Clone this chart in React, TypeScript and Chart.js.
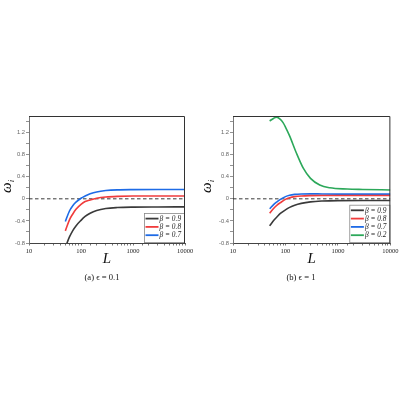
import React, { useEffect, useRef } from "react";
import { Chart, registerables } from "chart.js";
Chart.register(...registerables);

// ---------- data ----------
const X_MIN = 10;
const X_MAX = 10000;
const Y_MIN = -0.8;
const Y_MAX = 1.5;
const Y_TICKS = [-0.8, -0.6, -0.4, -0.2, 0, 0.2, 0.4, 0.6, 0.8, 1.0, 1.2, 1.4];
const Y_LABELED = [-0.8, -0.4, 0, 0.4, 0.8, 1.2];

// panel (a) eps = 0.1
const L_A = [50, 60, 70, 80, 100, 120, 150, 200, 300, 500, 1000, 3000, 10000];
const A_BETA09 = [-0.88, -0.69, -0.57, -0.49, -0.39, -0.32, -0.26, -0.21, -0.175, -0.158, -0.15, -0.147, -0.146];
const A_BETA08 = [-0.58, -0.38, -0.27, -0.19, -0.1, -0.05, -0.02, 0.01, 0.033, 0.045, 0.05, 0.05, 0.05];
const A_BETA07 = [-0.41, -0.22, -0.12, -0.06, 0.01, 0.05, 0.09, 0.125, 0.15, 0.163, 0.167, 0.168, 0.168];

// panel (b) eps = 1
const L_B = [50, 60, 70, 80, 100, 120, 150, 200, 300, 500, 1000, 3000, 10000];
const B_BETA09 = [-0.49, -0.39, -0.32, -0.265, -0.2, -0.155, -0.115, -0.082, -0.055, -0.04, -0.032, -0.03, -0.03];
const B_BETA08 = [-0.26, -0.17, -0.11, -0.07, -0.01, 0.02, 0.04, 0.052, 0.058, 0.06, 0.06, 0.06, 0.06];
const B_BETA07 = [-0.18, -0.1, -0.05, -0.01, 0.04, 0.065, 0.08, 0.088, 0.09, 0.088, 0.086, 0.085, 0.085];
const L_B_GREEN = [50, 60, 67, 80, 90, 100, 120, 160, 220, 300, 450, 700, 1500, 3000, 10000];
const B_BETA02 = [1.41, 1.46, 1.48, 1.44, 1.38, 1.3, 1.14, 0.84, 0.55, 0.37, 0.25, 0.2, 0.178, 0.17, 0.16];

const LABEL_09 = "β = 0.9";
const LABEL_08 = "β = 0.8";
const LABEL_07 = "β = 0.7";
const LABEL_02 = "β = 0.2";

const COL_BLACK = "#3a3a3a";
const COL_RED = "#f03c3c";
const COL_BLUE = "#1e6be6";
const COL_GREEN = "#2ca85a";

const SERIF = '"Liberation Serif", "DejaVu Serif", serif';
const SANS = '"Liberation Sans", "DejaVu Sans", sans-serif';

const toPts = (xs: number[], ys: number[]) => xs.map((x, i) => ({ x, y: ys[i] }));

function series(label: string, xs: number[], ys: number[], color: string) {
  return {
    label,
    data: toPts(xs, ys),
    borderColor: color,
    backgroundColor: color,
    borderWidth: 1.6,
    pointRadius: 0,
    cubicInterpolationMode: "monotone",
    fill: false,
    order: 1,
  };
}

function zeroLine() {
  return {
    label: "__zero",
    data: [
      { x: X_MIN, y: 0 },
      { x: X_MAX, y: 0 },
    ],
    borderColor: "#222",
    borderWidth: 0.9,
    borderDash: [3.5, 2.5],
    pointRadius: 0,
    fill: false,
    order: 10,
  };
}

const decor = {
  id: "decor",
  afterDatasetsDraw(chart: any) {
    const ctx = chart.ctx;
    const ca = chart.chartArea;
    const items = chart.data.datasets.filter((d: any) => d.label !== "__zero");
    const rowH = 8.3;
    const boxW = 41;
    const boxH = items.length * rowH + 5;
    const bx = ca.right - boxW;
    const by = ca.bottom - boxH;
    ctx.save();
    ctx.fillStyle = "#fff";
    ctx.fillRect(bx, by, boxW, boxH);
    ctx.strokeStyle = "#888";
    ctx.lineWidth = 0.8;
    ctx.strokeRect(bx + 0.4, by + 0.4, boxW - 0.8, boxH - 0.8);
    items.forEach((d: any, i: number) => {
      const cy = by + 5.5 + i * rowH;
      ctx.strokeStyle = d.borderColor;
      ctx.lineWidth = 1.8;
      ctx.beginPath();
      ctx.moveTo(bx + 1.5, cy);
      ctx.lineTo(bx + 14.5, cy);
      ctx.stroke();
      ctx.fillStyle = "#222";
      ctx.font = `italic 7.4px ${SERIF}`;
      ctx.textBaseline = "middle";
      ctx.textAlign = "left";
      ctx.fillText(d.label, bx + 15.5, cy + 0.3);
    });
    ctx.restore();
  },
  afterDraw(chart: any, _a: any, opts: any) {
    const ctx = chart.ctx;
    const ca = chart.chartArea;
    ctx.save();
    // box frame
    ctx.strokeStyle = "#333";
    ctx.lineWidth = 1;
    ctx.beginPath();
    ctx.moveTo(ca.left, ca.top + 0.5);
    ctx.lineTo(ca.right - 0.5, ca.top + 0.5);
    ctx.lineTo(ca.right - 0.5, ca.bottom);
    ctx.stroke();
    ctx.restore();

    // y title  ω_i
    ctx.save();
    const cx = 7;
    const cy = (ca.top + ca.bottom) / 2 + 7;
    ctx.translate(cx, cy);
    ctx.rotate(-Math.PI / 2);
    ctx.fillStyle = "#111";
    ctx.textBaseline = "alphabetic";
    ctx.textAlign = "left";
    ctx.font = `italic 15px ${SERIF}`;
    const w1 = ctx.measureText("ω").width;
    ctx.font = `italic 9px ${SERIF}`;
    const w2 = ctx.measureText("i").width;
    const start = -(w1 + w2) / 2;
    ctx.font = `italic 15px ${SERIF}`;
    ctx.fillText("ω", start, 3.5);
    ctx.font = `italic 9px ${SERIF}`;
    ctx.fillText("i", start + w1 + 0.3, 6.5);
    ctx.restore();

    ctx.save();
    // x title L
    ctx.fillStyle = "#111";
    ctx.textAlign = "center";
    ctx.textBaseline = "middle";
    ctx.font = `italic 15px ${SERIF}`;
    ctx.fillText("L", (ca.left + ca.right) / 2, ca.bottom + 16);
    // caption
    ctx.font = `8.6px ${SERIF}`;
    ctx.fillText(opts.caption, opts.captionX, ca.bottom + 35);
    ctx.restore();
  },
};

function makeConfig(datasets: any[], yWidth: number, padRight: number, caption: string, captionX: number) {
  return {
    type: "line",
    data: { datasets },
    plugins: [decor],
    options: {
      animation: false,
      responsive: false,
      maintainAspectRatio: false,
      layout: { padding: { top: 16, right: padRight, left: 0, bottom: 0 } },
      plugins: {
        legend: { display: false },
        tooltip: { enabled: false },
        decor: { caption, captionX },
      },
      scales: {
        x: {
          type: "logarithmic",
          min: X_MIN,
          max: X_MAX,
          afterFit: (s: any) => {
            s.height = 47;
          },
          grid: { drawOnChartArea: false, tickLength: 2.5, color: "#555", lineWidth: 0.8 },
          border: { color: "#444", width: 1 },
          ticks: {
            autoSkip: false,
            maxRotation: 0,
            padding: 1.5,
            color: "#222",
            font: { family: SERIF, size: 6.5 },
            callback: (v: any) => {
              const n = Number(v);
              const l = Math.log10(n);
              return Math.abs(l - Math.round(l)) < 1e-9 ? String(Math.round(n)) : "";
            },
          },
        },
        y: {
          min: Y_MIN,
          max: Y_MAX,
          afterFit: (s: any) => {
            s.width = yWidth;
          },
          afterBuildTicks: (s: any) => {
            s.ticks = Y_TICKS.map((v) => ({ value: v }));
          },
          grid: { drawOnChartArea: false, tickLength: 3, color: "#777", lineWidth: 0.8 },
          border: { color: "#777", width: 1 },
          ticks: {
            autoSkip: false,
            padding: 1,
            color: "#666",
            font: { family: SANS, size: 5.8 },
            callback: (v: any) => {
              const r = Math.round(Number(v) * 10) / 10;
              return Y_LABELED.some((t) => Math.abs(t - r) < 1e-6) ? String(r) : "";
            },
          },
        },
      },
    },
  };
}

function Panel({ left, config }: { left: number; config: any }) {
  const ref = useRef<HTMLCanvasElement | null>(null);
  useEffect(() => {
    if (!ref.current) return;
    const chart = new Chart(ref.current, config);
    return () => chart.destroy();
  }, [config]);
  return (
    <div style={{ position: "absolute", left, top: 100, width: 200, height: 190 }}>
      <canvas ref={ref} width={200} height={190} style={{ width: 200, height: 190, display: "block" }} />
    </div>
  );
}

const CONFIG_A = makeConfig(
  [
    series(LABEL_09, L_A, A_BETA09, COL_BLACK),
    series(LABEL_08, L_A, A_BETA08, COL_RED),
    series(LABEL_07, L_A, A_BETA07, COL_BLUE),
    zeroLine(),
  ],
  29,
  15,
  "(a) ϵ = 0.1",
  102
);

const CONFIG_B = makeConfig(
  [
    series(LABEL_09, L_B, B_BETA09, COL_BLACK),
    series(LABEL_08, L_B, B_BETA08, COL_RED),
    series(LABEL_07, L_B, B_BETA07, COL_BLUE),
    series(LABEL_02, L_B_GREEN, B_BETA02, COL_GREEN),
    zeroLine(),
  ],
  33,
  9,
  "(b) ϵ = 1",
  101
);

export default function App() {
  return (
    <div style={{ position: "absolute", left: 0, top: 0, width: 400, height: 400, background: "#fff" }}>
      <Panel left={0} config={CONFIG_A} />
      <Panel left={200} config={CONFIG_B} />
    </div>
  );
}
